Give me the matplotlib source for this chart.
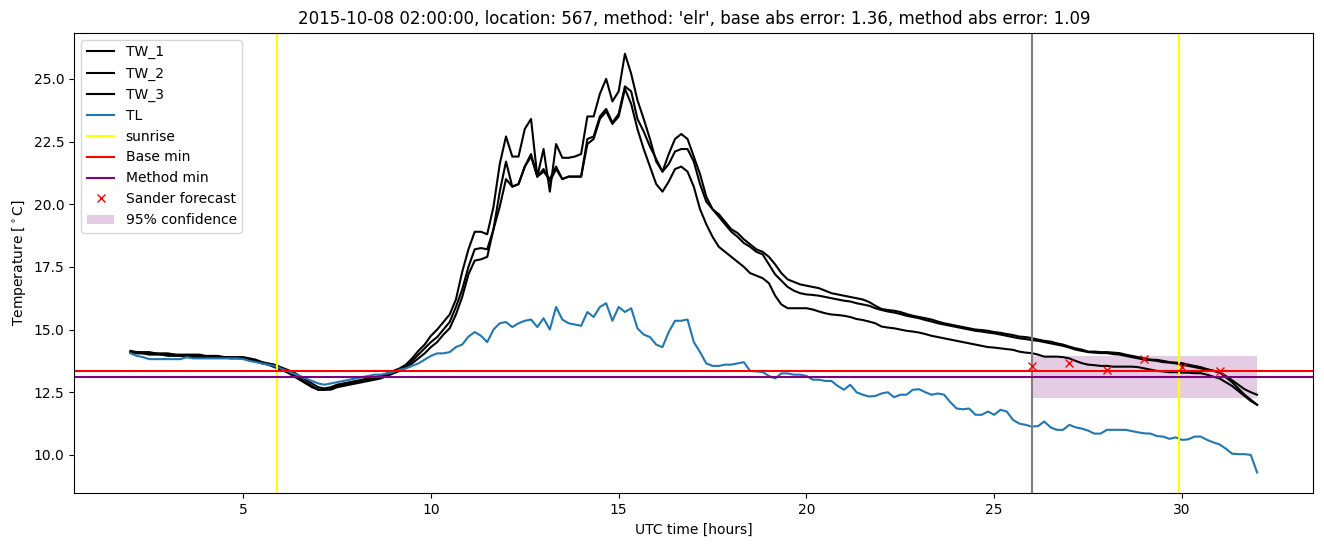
"""
Forecast check plot: wet-bulb (TW) and air (TL) temperature traces for one location,
with sunrise, min-temperature lines and the Sander forecast + 95% band.
"""
import numpy as np
import matplotlib
matplotlib.use("Agg")
import matplotlib.pyplot as plt

# 10-minute samples from 02:00 (day 0) to 08:00 (day 1), as UTC hours
hours = np.arange(2, 32 + 1e-9, 1 / 6)

TL = [
    14.05, 13.95, 13.9, 13.82, 13.82, 13.82,
    13.82, 13.82, 13.82, 13.9, 13.85, 13.85,
    13.85, 13.85, 13.85, 13.85, 13.85, 13.85,
    13.82, 13.75, 13.7, 13.65, 13.6, 13.55,
    13.45, 13.35, 13.25, 13.15, 13.05, 12.95,
    12.85, 12.8, 12.85, 12.9, 12.95, 13.0,
    13.05, 13.1, 13.15, 13.2, 13.2, 13.25,
    13.3, 13.4, 13.45, 13.55, 13.65, 13.8,
    13.95, 14.05, 14.05, 14.1, 14.3, 14.4,
    14.72, 14.9, 14.75, 14.5, 15.0, 15.25,
    15.3, 15.1, 15.25, 15.35, 15.4, 15.1,
    15.45, 15.0, 15.9, 15.4, 15.25, 15.2,
    15.15, 15.7, 15.5, 15.9, 16.05, 15.35,
    15.9, 15.7, 15.85, 15.05, 14.8, 14.7,
    14.4, 14.3, 14.9, 15.35, 15.35, 15.4,
    14.5, 14.1, 13.65, 13.55, 13.55, 13.6,
    13.6, 13.65, 13.7, 13.35, 13.33, 13.3,
    13.15, 13.05, 13.25, 13.25, 13.2, 13.2,
    13.15, 13.0, 13.0, 12.95, 12.95, 12.75,
    12.6, 12.8, 12.5, 12.4, 12.33, 12.35,
    12.45, 12.5, 12.3, 12.4, 12.4, 12.6,
    12.62, 12.5, 12.4, 12.45, 12.4, 12.1,
    11.85, 11.82, 11.85, 11.6, 11.6, 11.73,
    11.6, 11.8, 11.73, 11.4, 11.25, 11.2,
    11.13, 11.15, 11.33, 11.1, 11.0, 11.0,
    11.2, 11.1, 11.05, 10.97, 10.85, 10.85,
    11.0, 11.0, 11.0, 11.0, 10.95, 10.9,
    10.86, 10.85, 10.75, 10.73, 10.64, 10.7,
    10.6, 10.62, 10.73, 10.73, 10.6, 10.5,
    10.42, 10.25, 10.05, 10.03, 10.03, 10.0,
    9.3,
]

TW_1 = [
    14.15, 14.1, 14.1, 14.1, 14.05, 14.05,
    14.05, 14.0, 14.0, 14.0, 14.0, 14.0,
    13.95, 13.95, 13.95, 13.9, 13.9, 13.9,
    13.9, 13.85, 13.8, 13.7, 13.65, 13.6,
    13.5, 13.4, 13.3, 13.15, 13.0, 12.85,
    12.7, 12.65, 12.7, 12.8, 12.85, 12.9,
    12.95, 13.0, 13.05, 13.1, 13.15, 13.25,
    13.35, 13.45, 13.6, 13.85, 14.15, 14.4,
    14.75, 15.0, 15.3, 15.6, 16.2, 17.3,
    18.2, 18.9, 18.9, 18.8, 19.9, 21.6,
    22.7, 21.9, 21.9, 23.0, 23.4, 21.1,
    22.2, 20.5, 22.4, 21.85, 21.85, 21.9,
    22.0, 23.5, 23.5, 24.4, 25.0, 24.1,
    24.5, 26.0, 25.2, 24.15, 23.4, 22.6,
    21.7, 21.3, 22.0, 22.6, 22.8, 22.6,
    21.9, 21.2, 20.3, 19.8, 19.6, 19.3,
    19.0, 18.85, 18.6, 18.4, 18.2, 18.1,
    17.9, 17.6, 17.25, 17.0, 16.9, 16.8,
    16.75, 16.7, 16.65, 16.55, 16.45, 16.4,
    16.35, 16.3, 16.25, 16.2, 16.1, 15.95,
    15.82, 15.78, 15.75, 15.7, 15.62, 15.55,
    15.5, 15.45, 15.4, 15.32, 15.25, 15.2,
    15.15, 15.1, 15.05, 15.0, 14.98, 14.95,
    14.9, 14.87, 14.82, 14.78, 14.72, 14.7,
    14.66, 14.6, 14.55, 14.52, 14.45, 14.4,
    14.32, 14.25, 14.2, 14.12, 14.12, 14.1,
    14.1, 14.08, 14.06, 14.0, 13.95, 13.9,
    13.85, 13.8, 13.79, 13.75, 13.7, 13.68,
    13.66, 13.6, 13.55, 13.5, 13.42, 13.36,
    13.3, 13.15, 12.98, 12.8, 12.62, 12.5,
    12.4,
]

TW_2 = [
    14.1, 14.1, 14.05, 14.05, 14.05, 14.0,
    14.0, 14.0, 13.95, 13.95, 13.95, 13.95,
    13.9, 13.9, 13.9, 13.9, 13.88, 13.88,
    13.85, 13.8, 13.75, 13.7, 13.6, 13.55,
    13.45, 13.35, 13.2, 13.05, 12.9, 12.75,
    12.6, 12.6, 12.65, 12.75, 12.8, 12.85,
    12.9, 12.95, 13.0, 13.05, 13.1, 13.2,
    13.3, 13.4, 13.55, 13.75, 14.0, 14.25,
    14.5, 14.7, 15.0, 15.3, 15.9, 16.6,
    17.5, 18.2, 18.25, 18.2, 19.0, 20.5,
    21.7, 20.7, 20.8, 21.5, 22.0, 21.1,
    21.3, 21.0, 21.5, 21.0, 21.1, 21.1,
    21.1, 22.6, 22.7, 23.5, 23.8, 23.25,
    23.6, 24.7, 24.5, 23.4, 22.9, 22.3,
    21.8, 21.3, 21.6, 22.1, 22.2, 22.2,
    21.7, 20.8, 20.1, 19.8, 19.5, 19.2,
    18.9, 18.7, 18.45, 18.3, 18.1, 18.0,
    17.6, 17.2, 16.95, 16.7, 16.55, 16.45,
    16.4, 16.38, 16.35, 16.3, 16.25, 16.2,
    16.15, 16.12, 16.05, 16.0, 15.95, 15.85,
    15.78, 15.72, 15.68, 15.62, 15.55, 15.5,
    15.45, 15.38, 15.32, 15.25, 15.2, 15.15,
    15.1, 15.05, 15.0, 14.95, 14.92, 14.88,
    14.85, 14.8, 14.75, 14.7, 14.65, 14.62,
    14.58, 14.55, 14.5, 14.45, 14.4, 14.35,
    14.28, 14.2, 14.15, 14.1, 14.08, 14.06,
    14.06, 14.02, 14.0, 13.95, 13.9, 13.85,
    13.8, 13.78, 13.75, 13.7, 13.68, 13.65,
    13.6, 13.55, 13.5, 13.45, 13.4, 13.35,
    13.3, 13.1, 12.9, 12.65, 12.4, 12.2,
    12.0,
]

TW_3 = [
    14.1, 14.05, 14.05, 14.0, 14.0, 14.0,
    13.95, 13.95, 13.95, 13.9, 13.9, 13.9,
    13.9, 13.88, 13.88, 13.88, 13.85, 13.85,
    13.85, 13.8, 13.75, 13.65, 13.6, 13.5,
    13.4, 13.3, 13.15, 13.0, 12.85, 12.7,
    12.6, 12.6, 12.6, 12.7, 12.75, 12.8,
    12.85, 12.9, 12.95, 13.0, 13.05, 13.15,
    13.25, 13.35, 13.5, 13.65, 13.85, 14.05,
    14.3, 14.5, 14.8, 15.05, 15.6, 16.3,
    17.2, 17.75, 17.8, 17.9, 19.0, 19.9,
    21.0, 20.7, 20.8, 21.5, 21.9, 21.1,
    21.4, 20.9, 21.4, 21.0, 21.1, 21.1,
    21.1, 22.4, 22.6, 23.4, 23.7, 23.2,
    23.5, 24.6, 24.0, 23.0, 22.2, 21.5,
    20.8, 20.5, 20.9, 21.4, 21.5, 21.3,
    20.7, 19.8, 19.2, 18.7, 18.3, 18.1,
    17.9, 17.7, 17.5, 17.25, 17.15, 17.05,
    16.85, 16.35, 16.0, 15.85, 15.85, 15.85,
    15.85, 15.8, 15.72, 15.65, 15.6, 15.58,
    15.55, 15.5, 15.42, 15.38, 15.32, 15.25,
    15.12, 15.08, 15.05, 15.0, 14.95, 14.92,
    14.88, 14.82, 14.75, 14.7, 14.65, 14.6,
    14.55, 14.5, 14.45, 14.4, 14.35, 14.3,
    14.28, 14.25, 14.22, 14.19, 14.12, 14.08,
    14.06, 14.0, 13.92, 13.92, 13.92, 13.9,
    13.85, 13.75, 13.66, 13.6, 13.58, 13.55,
    13.55, 13.52, 13.52, 13.52, 13.52, 13.5,
    13.45, 13.4, 13.35, 13.33, 13.3, 13.3,
    13.28, 13.28, 13.26, 13.26, 13.2, 13.12,
    13.05, 12.9, 12.75, 12.55, 12.35, 12.15,
    12.0,
]

# Events and forecast
sunrise_hours = [5.9, 29.92]
forecast_start = 26.0
base_min = 13.35
method_min = 13.1
sander_hours = [26, 27, 28, 29, 30, 31]
sander_values = [13.55, 13.66, 13.39, 13.83, 13.52, 13.35]
conf_hours = [26, 32]
conf_low = 12.25
conf_high = 13.95

title = ("2015-10-08 02:00:00, location: 567, method: 'elr', "
         "base abs error: 1.36, method abs error: 1.09")

# --- Plot ---
fig, ax = plt.subplots(figsize=(13.24, 5.47), dpi=100)

ax.plot(hours, TW_1, color="black", label="TW_1")
ax.plot(hours, TW_2, color="black", label="TW_2")
ax.plot(hours, TW_3, color="black", label="TW_3")
ax.plot(hours, TL, color="#1f77b4", label="TL")

for i, sr in enumerate(sunrise_hours):
    ax.axvline(sr, color="yellow", label="sunrise" if i == 0 else None)
ax.axvline(forecast_start, color="grey")

ax.axhline(base_min, color="red", label="Base min")
ax.axhline(method_min, color="purple", label="Method min")

ax.plot(sander_hours, sander_values, "x", color="red", label="Sander forecast")
ax.fill_between(conf_hours, conf_low, conf_high, color="purple", alpha=0.2,
                linewidth=0, label="95% confidence")

ax.set_title(title)
ax.set_xlabel("UTC time [hours]")
ax.set_ylabel(r"Temperature [$^\circ$C]")
ax.legend(loc="upper left")

fig.subplots_adjust(left=0.056, right=0.992, top=0.94, bottom=0.098)
fig.savefig("out.png", dpi=100)
plt.close()
